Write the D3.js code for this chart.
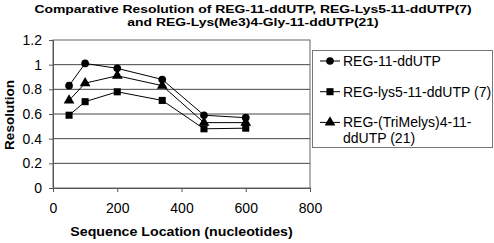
<!DOCTYPE html>
<html><head><meta charset="utf-8">
<script src="https://cdn.jsdelivr.net/npm/d3@7"></script>
<style>body{margin:0;background:#fff}svg{display:block;font-family:Arial,"Liberation Sans",sans-serif}</style>
</head><body>
<script>
const xValues = [50, 100, 200, 340, 470, 600];
const seriesNames = ["REG-11-ddUTP", "REG-lys5-11-ddUTP (7)", "REG-(TriMelys)4-11-ddUTP (21)"];
const seriesShapes = ["circle", "square", "triangle"];
const reg11 = [0.83, 1.01, 0.97, 0.88, 0.59, 0.57];
const regLys5 = [0.59, 0.70, 0.78, 0.71, 0.48, 0.485];
const regTriMe = [0.71, 0.85, 0.91, 0.83, 0.53, 0.53];
const xTicks = [0, 200, 400, 600, 800];
const yTicks = [0, 0.2, 0.4, 0.6, 0.8, 1, 1.2];
const titleLines = ["Comparative Resolution of REG-11-ddUTP, REG-Lys5-11-ddUTP(7)", "and REG-Lys(Me3)4-Gly-11-ddUTP(21)"];
const xTitle = "Sequence Location (nucleotides)";
const yTitle = "Resolution";

const W = 494, H = 243;
const FONT = "Arial, 'Liberation Sans', sans-serif";
const svg = d3.select("body").append("svg").attr("width", W).attr("height", H);
const L = 53, R = 310, T = 40, B = 188;
const x = d3.scaleLinear().domain([0, 800]).range([L, R]);
const y = d3.scaleLinear().domain([0, 1.2]).range([B, T]);

// title (glyphs wider than tall, as in the reference)
svg.selectAll("text.title").data(titleLines).join("text").attr("class", "title")
  .attr("transform", (d, i) => `translate(253,${13 + i * 13}) scale(1.2,1)`)
  .attr("text-anchor", "middle").attr("font-weight", "bold").attr("font-size", 11.6)
  .attr("fill", "#000").text(d => d);

// gridlines
svg.append("g").selectAll("line").data(yTicks.filter(t => t > 0 && t < 1.2)).join("line")
  .attr("x1", L).attr("x2", R).attr("y1", d => y(d)).attr("y2", d => y(d))
  .attr("stroke", "#444").attr("stroke-width", 1);

// plot border
svg.append("rect").attr("x", L).attr("y", T).attr("width", R - L).attr("height", B - T)
  .attr("fill", "none").attr("stroke", "#666").attr("stroke-width", 1);

// axes
const yAxis = svg.append("g").attr("transform", `translate(${L},0)`)
  .call(d3.axisLeft(y).tickValues(yTicks).tickFormat(d3.format("~g")).tickSize(4).tickPadding(7));
const xAxis = svg.append("g").attr("transform", `translate(0,${B})`)
  .call(d3.axisBottom(x).tickValues(xTicks).tickSize(4).tickPadding(8));
[yAxis, xAxis].forEach(a => {
  a.select(".domain").attr("stroke", "#555");
  a.selectAll(".tick line").attr("stroke", "#555");
  a.selectAll("text").attr("font-size", 14).attr("fill", "#000").attr("font-family", FONT);
});
xAxis.selectAll("text").attr("dy", null).attr("y", 25);

svg.append("text").attr("transform", `translate(${(L + R) / 2},236) scale(1,0.87)`).attr("text-anchor", "middle")
  .attr("font-weight", "bold").attr("font-size", 14.2).text(xTitle);
svg.append("text").attr("transform", `translate(13.5,${(T + B) / 2 + 1}) rotate(-90)`).attr("text-anchor", "middle")
  .attr("font-weight", "bold").attr("font-size", 13.5).text(yTitle);

const allSeries = [reg11, regLys5, regTriMe];
const sym = {
  circle: d3.symbol(d3.symbolCircle, 46),
  square: d3.symbol(d3.symbolSquare, 50),
  triangle: d3.symbol(d3.symbolTriangle, 50)
};
const line = d3.line().x((d, i) => x(xValues[i])).y(d => y(d));
allSeries.forEach((s, k) => {
  svg.append("path").attr("d", line(s)).attr("fill", "none").attr("stroke", "#000").attr("stroke-width", 1);
  svg.append("g").selectAll("path").data(s).join("path")
    .attr("transform", (d, i) => `translate(${x(xValues[i])},${y(d)})`)
    .attr("d", sym[seriesShapes[k]]()).attr("fill", "#000");
});

// legend
const lg = svg.append("g");
lg.append("rect").attr("x", 312.5).attr("y", 50.5).attr("width", 180).attr("height", 97)
  .attr("fill", "#fff").attr("stroke", "#777");
const legendRows = [[seriesNames[0]], [seriesNames[1]], ["REG-(TriMelys)4-11-", "ddUTP (21)"]];
legendRows.forEach((lines, k) => {
  const cy = 61 + k * 30.7;
  lg.append("line").attr("x1", 320).attr("x2", 340).attr("y1", cy).attr("y2", cy).attr("stroke", "#000");
  lg.append("path").attr("transform", `translate(330,${cy})`).attr("d", sym[seriesShapes[k]]()).attr("fill", "#000");
  lines.forEach((t, j) => {
    lg.append("text").attr("x", 343).attr("y", cy + 5 + j * 15.5).attr("font-size", 14).attr("fill", "#000").text(t);
  });
});
</script>
</body></html>
